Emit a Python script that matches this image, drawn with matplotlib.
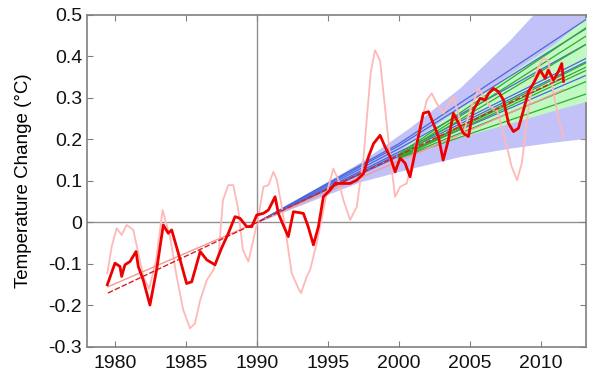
import numpy as np
from matplotlib import pyplot as plt
import matplotlib as mpl

# observed temperature, smoothed (thick red)
obs_years = [1979.46, 1980.0, 1980.35, 1980.47, 1980.7, 1981.06, 1981.48, 1981.64, 1982.0, 1982.46,
             1982.93, 1983.4, 1983.75, 1983.99, 1984.46, 1985.04, 1985.4, 1986.0, 1986.46, 1987.04,
             1987.5, 1987.98, 1988.45, 1988.8, 1989.27, 1989.63, 1989.98, 1990.45, 1990.8, 1991.27,
             1991.5, 1991.74, 1992.2, 1992.56, 1993.26, 1993.6, 1993.97, 1994.32, 1994.67, 1995.14,
             1995.5, 1995.96, 1996.55, 1997.02, 1997.5, 1997.84, 1998.2, 1998.66, 1999.0, 1999.37,
             1999.72, 2000.07, 2000.42, 2000.77, 2001.25, 2001.7, 2002.07, 2002.4, 2002.77, 2003.1,
             2003.47, 2003.82, 2004.18, 2004.53, 2004.88, 2005.23, 2005.7, 2006.06, 2006.3, 2006.64,
             2007.0, 2007.35, 2007.7, 2008.05, 2008.4, 2008.76, 2009.1, 2009.46, 2009.93, 2010.28,
             2010.5, 2010.87, 2011.2, 2011.45, 2011.57]
obs_temp = [-0.15, -0.098, -0.106, -0.13, -0.102, -0.094, -0.07, -0.106, -0.14, -0.199,
            -0.114, -0.006, -0.026, -0.018, -0.074, -0.147, -0.143, -0.07, -0.09, -0.102,
            -0.062, -0.026, 0.014, 0.01, -0.01, -0.01, 0.018, 0.022, 0.03, 0.062,
            0.022, 0.002, -0.034, 0.026, 0.022, -0.01, -0.054, -0.01, 0.062, 0.078,
            0.094, 0.094, 0.094, 0.102, 0.118, 0.158, 0.19, 0.21, 0.183, 0.158,
            0.122, 0.155, 0.143, 0.11, 0.19, 0.263, 0.267, 0.239, 0.207, 0.15,
            0.199, 0.263, 0.239, 0.215, 0.207, 0.271, 0.299, 0.295, 0.311, 0.323,
            0.315, 0.295, 0.239, 0.219, 0.227, 0.271, 0.315, 0.335, 0.367, 0.347,
            0.367, 0.343, 0.363, 0.383, 0.34]

# unadjusted data (light pink)
raw_years = [1979.46, 1979.77, 1980.12, 1980.47, 1980.82, 1981.29, 1981.64, 1982.0, 1982.4, 1982.9,
             1983.35, 1983.87, 1984.34, 1984.8, 1985.28, 1985.63, 1986.0, 1986.46, 1986.93, 1987.3,
             1987.6, 1987.98, 1988.33, 1988.68, 1989.0, 1989.39, 1989.74, 1990.1, 1990.45, 1990.8,
             1991.15, 1991.4, 1991.74, 1992.1, 1992.44, 1992.91, 1993.1, 1993.5, 1993.73, 1994.2,
             1994.67, 1994.9, 1995.37, 1995.73, 1996.08, 1996.55, 1997.02, 1997.5, 1998.0, 1998.3,
             1998.66, 1999.0, 1999.37, 1999.72, 2000.07, 2000.54, 2001.25, 2001.95, 2002.3, 2002.65,
             2003.12, 2003.82, 2004.1, 2004.53, 2005.0, 2005.6, 2005.94, 2006.4, 2006.9, 2007.58,
             2007.93, 2008.3, 2008.64, 2009.0, 2009.35, 2009.8, 2010.16, 2010.5, 2010.87, 2011.2,
             2011.57]
raw_temp = [-0.122, -0.058, -0.014, -0.03, -0.006, -0.018, -0.074, -0.13, -0.16, -0.09,
            0.03, -0.034, -0.13, -0.21, -0.255, -0.243, -0.187, -0.139, -0.114, -0.074,
            0.054, 0.09, 0.09, 0.03, -0.066, -0.094, -0.042, 0.014, 0.086, 0.09,
            0.122, 0.102, 0.038, -0.042, -0.122, -0.159, -0.17, -0.13, -0.115, -0.05,
            0.03, 0.07, 0.13, 0.102, 0.054, 0.006, 0.038, 0.158, 0.36, 0.415,
            0.39, 0.279, 0.158, 0.062, 0.086, 0.094, 0.2, 0.295, 0.311, 0.287,
            0.263, 0.303, 0.27, 0.215, 0.271, 0.323, 0.303, 0.279, 0.27, 0.183,
            0.134, 0.102, 0.143, 0.247, 0.327, 0.375, 0.396, 0.39, 0.311, 0.255,
            0.203]

# linear trends of the two series
trend_years = [1979.5, 2011.6]
trend_red = [-0.17, 0.35]
trend_pink = [-0.155, 0.32]

# projection range from 1990 (blue) and from 2000 (green)
fan_years = [1990, 1995, 1997.25, 2000.8, 2004.3, 2007.8, 2010.5, 2013.2]
fan_blue_lo = [0.0, 0.068, 0.098, 0.13, 0.159, 0.179, 0.192, 0.203]
fan_blue_hi = [0.0, 0.1, 0.145, 0.23, 0.325, 0.44, 0.54, 0.65]
green_years = [1999.5, 2001.5, 2003.6, 2006.0, 2008.5, 2010.9, 2013.2]
green_lo = [0.155, 0.175, 0.199, 0.222, 0.246, 0.27, 0.292]
green_hi = [0.16, 0.21, 0.26, 0.315, 0.375, 0.43, 0.495]

# individual model runs
blue_years = [1990, 2000, 2013.2]
blue_runs = [[0.0, 0.19, 0.49], [0.0, 0.185, 0.468], [0.0, 0.178, 0.43],
             [0.0, 0.17, 0.396], [0.0, 0.165, 0.388], [0.0, 0.16, 0.355]]
green_run_years = [2000, 2013.2]
green_runs = [[0.165, 0.47], [0.162, 0.45], [0.16, 0.43], [0.158, 0.385],
              [0.158, 0.375], [0.156, 0.367], [0.155, 0.34], [0.155, 0.31]]

xtick_vals = [1980, 1985, 1990, 1995, 2000, 2005, 2010]
ytick_vals = [-0.3, -0.2, -0.1, 0, 0.1, 0.2, 0.3, 0.4, 0.5]
ytick_labels = ["-0.3", "-0.2", "-0.1", "0", "0.1", "0.2", "0.3", "0.4", "0.5"]

mpl.rcParams.update({"font.family": ["Liberation Sans", "DejaVu Sans"]})
fig = plt.figure(figsize=(6, 3.83), dpi=100)
ax = fig.add_axes([0.145, 0.094, 0.832, 0.867])

ax.axvline(1990, color="#909090", linewidth=1, zorder=1)
ax.axhline(0, color="#909090", linewidth=1, zorder=1)

ax.fill_between(fan_years, fan_blue_lo, fan_blue_hi, color="#c2c2f8", linewidth=0, zorder=2)
ax.fill_between(green_years, green_lo, green_hi, color="#c2f8c2", linewidth=0, zorder=3)
for run in blue_runs:
    ax.plot(blue_years, run, color="#4a68dc", linewidth=0.9, zorder=4)
for run in green_runs:
    ax.plot(green_run_years, run, color="#30ac30", linewidth=0.9, zorder=4)

ax.plot(raw_years, raw_temp, color="#ffb8b8", linewidth=1.3, zorder=5)
ax.plot(trend_years, trend_pink, color="#f29a9a", linewidth=1.0, zorder=6)
ax.plot(trend_years, trend_red, color="#d82020", linewidth=1.0, linestyle=(0, (4, 1.5)), zorder=6)
ax.plot(obs_years, obs_temp, color="#ee0000", linewidth=2.0, zorder=7)

ax.set_xlim(1978.03, 2013.17)
ax.set_ylim(-0.3, 0.5)
ax.set_xticks(xtick_vals)
ax.set_yticks(ytick_vals)
ax.set_yticklabels(ytick_labels)
ax.tick_params(direction="in", top=True, right=True, length=4, color="#808080",
               labelsize=14, labelcolor="#111111")
ax.tick_params(axis="x", pad=6)
for s in ax.spines.values():
    s.set_color("#808080")
    s.set_linewidth(1.2)
ax.set_ylabel("Temperature Change (°C)", fontsize=13.5, labelpad=12)

plt.savefig("out.png", dpi=100)
